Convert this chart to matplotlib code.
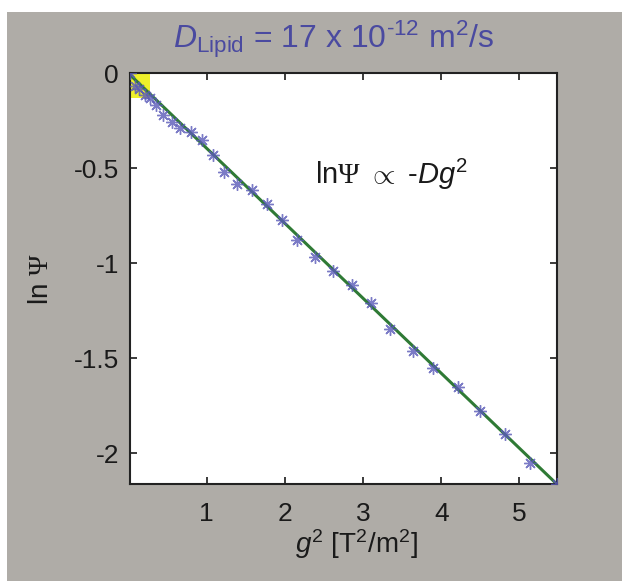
import matplotlib
matplotlib.use("Agg")
import matplotlib.pyplot as plt
from matplotlib.patches import Rectangle

plt.rcParams["font.family"] = ["Liberation Sans", "DejaVu Sans"]
plt.rcParams["mathtext.fontset"] = "custom"
plt.rcParams["mathtext.rm"] = "Liberation Sans"
plt.rcParams["mathtext.it"] = "Liberation Sans:italic"
plt.rcParams["mathtext.sf"] = "Liberation Serif"

# attenuation data: g^2 [T^2/m^2] vs ln(Psi)
g2 = [0.02, 0.083, 0.134, 0.211, 0.275, 0.352, 0.445, 0.552, 0.658, 0.795,
      0.936, 1.084, 1.221, 1.391, 1.575, 1.767, 1.959, 2.159, 2.387, 2.611,
      2.854, 3.101, 3.344, 3.634, 3.898, 4.217, 4.494, 4.814, 5.133, 5.476]
ln_psi = [0.0, -0.066, -0.082, -0.112, -0.130, -0.168, -0.217, -0.256, -0.288, -0.309,
          -0.353, -0.429, -0.517, -0.584, -0.616, -0.686, -0.774, -0.879, -0.968, -1.042,
          -1.116, -1.209, -1.344, -1.462, -1.549, -1.651, -1.777, -1.900, -2.049, -2.162]

# linear fit ln(Psi) = a + b*g^2
fit_a = 0.0
fit_b = -0.3948
fit_x = [g2[0], g2[-1]]
fit_y = [fit_a + fit_b * v for v in fit_x]

# highlighted low-gradient region (x0, y0, width, height)
hl_box = (0.02, -0.13, 0.255, 0.13)

xticks = [1, 2, 3, 4, 5]
yticks = [0, -0.5, -1, -1.5, -2]
ytick_labels = ["0", "-0.5", "-1", "-1.5", "-2"]

bg = "#afaca7"
fig = plt.figure(figsize=(6.22, 5.81), dpi=100)
fig.patch.set_facecolor("white")
fig.patches.append(Rectangle((7 / 622, 0), 1, 1 - 12 / 581, transform=fig.transFigure,
                             facecolor=bg, edgecolor="none", zorder=-10))

ax = fig.add_axes([130 / 622, 1 - 484 / 581, (556.7 - 130) / 622, (484 - 73.3) / 581])
ax.set_facecolor("white")
ax.add_patch(Rectangle(hl_box[:2], hl_box[2], hl_box[3], facecolor="#eef02a",
                       edgecolor="none", zorder=1))
ax.plot(fit_x, fit_y, color="#2f7a35", lw=2.2, zorder=2)
ax.plot(g2, ln_psi, ls="none", marker=(8, 2, 0), ms=9, mew=1.0,
        color="#5a5ab8", alpha=0.8, zorder=3)

ax.set_xlim(g2[0], g2[-1])
ax.set_ylim(ln_psi[-1], 0)
ax.set_xticks(xticks)
ax.set_xticklabels([str(t) for t in xticks])
ax.set_yticks(yticks)
ax.set_yticklabels(ytick_labels)
ax.tick_params(direction="in", top=True, right=True, length=5, width=1.2,
               labelsize=19, colors="#1a1a1a")
ax.tick_params(axis="x", pad=13)
ax.tick_params(axis="y", pad=8)
for s in ax.spines.values():
    s.set_linewidth(1.5)
    s.set_color("#222222")

ax.set_xlabel(r"$g^2$ [T$^2$/m$^2$]", fontsize=20, color="#1a1a1a", labelpad=2)
ax.xaxis.set_label_coords(0.53, -0.105)
ax.set_ylabel(r"ln $\mathsf{\Psi}$", fontsize=20, color="#1a1a1a", labelpad=14)
ax.text(3.36, -0.53, r"ln$\mathsf{\Psi}$ $\propto$ -$Dg^2$", fontsize=21,
        color="#1a1a1a", ha="center", va="center")

fig.text(0.537, 1 - 39 / 581, r"$D_{\mathrm{Lipid}}$ = 17 x 10$^{\text{-12}}$ m$^2$/s",
         fontsize=23, color="#4a4aa0", ha="center", va="center")

fig.savefig("out.png", dpi=100)
